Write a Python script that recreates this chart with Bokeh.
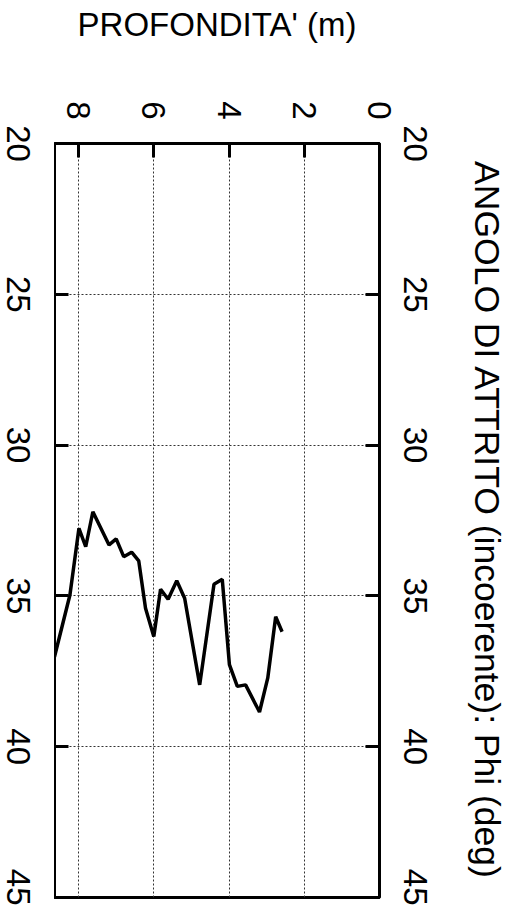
from bokeh.plotting import figure
from bokeh.models import Range1d, LinearAxis, FixedTicker
from bokeh.layouts import row
from bokeh.embed import file_html
from bokeh.resources import INLINE
import math

# depth (m) and friction angle Phi (deg)
depth = [2.59, 2.76, 2.97, 3.19, 3.56, 3.78, 3.99, 4.18, 4.40, 4.78, 5.18, 5.39, 5.62,
         5.82, 6.00, 6.22, 6.40, 6.59, 6.80, 7.00, 7.19, 7.62, 7.81, 7.99, 8.23, 8.64]
phi = [36.19, 35.69, 37.72, 38.85, 37.95, 38.00, 37.28, 34.45, 34.61, 37.95, 35.08, 34.50, 35.11,
       34.78, 36.35, 35.41, 33.84, 33.55, 33.70, 33.11, 33.31, 32.21, 33.37, 32.76, 34.97, 37.02]

depth_ticks = [0, 2, 4, 6, 8]
phi_ticks = [20, 25, 30, 35, 40, 45]
depth_range = (8.64, 0)
phi_range = (45, 20)

x_title = "PROFONDITA' (m)"
y_title = "ANGOLO DI ATTRITO (incoerente): Phi (deg)"

FONT = "Liberation Sans"
TICK_SIZE = "33px"
H = 905
TOP, BOTTOM = 143, 8
LEFT_W = 54
MAIN_W = 456
RIGHT_B = 131

yrange = Range1d(*phi_range)

# ---- main plot -------------------------------------------------------------
p = figure(width=MAIN_W, height=H, x_range=Range1d(*depth_range), y_range=yrange,
           output_backend="svg", toolbar_location=None, x_axis_location="above",
           min_border_left=0, min_border_right=RIGHT_B, min_border_top=TOP,
           min_border_bottom=BOTTOM)
p.background_fill_color = "white"
p.border_fill_color = "white"
p.outline_line_color = "black"
p.outline_line_width = 3

xa = p.xaxis[0]
xa.ticker = FixedTicker(ticks=depth_ticks)
xa.major_label_orientation = -math.pi / 2
xa.major_label_standoff = 24
xa.axis_label = x_title
xa.axis_label_standoff = 55
xa.axis_label_text_font_size = "33px"

ya = p.yaxis[0]
ya.ticker = FixedTicker(ticks=[], minor_ticks=phi_ticks)
ya.major_label_standoff = 0
ya.minor_tick_in = 14
ya.minor_tick_out = 0
ya.minor_tick_line_width = 3
ya.minor_tick_line_color = "black"

yr = LinearAxis(ticker=FixedTicker(ticks=phi_ticks))
p.add_layout(yr, "right")
yr.major_label_orientation = "vertical"
yr.major_label_standoff = 24
yr.axis_label = y_title
yr.axis_label_standoff = 37
yr.axis_label_text_font_size = "35.5px"

for ax in (xa, ya, yr):
    ax.major_tick_in = 14
    ax.major_tick_out = 0
    ax.major_tick_line_width = 3
    ax.major_tick_line_color = "black"
    ax.axis_line_color = None
    ax.major_label_text_font = FONT
    ax.major_label_text_font_size = TICK_SIZE
    ax.major_label_text_color = "black"
    ax.axis_label_text_font = FONT
    ax.axis_label_text_font_style = "normal"
    ax.axis_label_text_color = "black"
xa.minor_tick_in = 0
xa.minor_tick_out = 0
yr.minor_tick_in = 0
yr.minor_tick_out = 0

p.xgrid[0].ticker = FixedTicker(ticks=depth_ticks)
p.ygrid[0].ticker = FixedTicker(ticks=phi_ticks)
for g in (p.xgrid[0], p.ygrid[0]):
    g.grid_line_color = "#333333"
    g.grid_line_width = 1
    g.grid_line_dash = "2 2"

p.line(depth, phi, line_color="black", line_width=3.5)

# ---- narrow strip that carries the left-hand angle labels -------------------
lf = figure(width=LEFT_W, height=H, x_range=Range1d(0, 1), y_range=yrange,
            output_backend="svg", toolbar_location=None, x_axis_location=None,
            y_axis_location="right", min_border_left=0, min_border_right=LEFT_W - 1,
            min_border_top=TOP, min_border_bottom=BOTTOM)
lf.outline_line_color = None
lf.background_fill_color = "white"
lf.border_fill_color = "white"
lf.grid.visible = False
la = lf.yaxis[0]
la.ticker = FixedTicker(ticks=phi_ticks)
la.major_label_orientation = "vertical"
la.major_label_standoff = 5
la.major_tick_in = 0
la.major_tick_out = 0
la.minor_tick_in = 0
la.minor_tick_out = 0
la.axis_line_color = None
la.major_label_text_font = FONT
la.major_label_text_font_size = TICK_SIZE
la.major_label_text_color = "black"

layout = row(lf, p, spacing=0)
open("out.html", "w").write(file_html(layout, INLINE))
